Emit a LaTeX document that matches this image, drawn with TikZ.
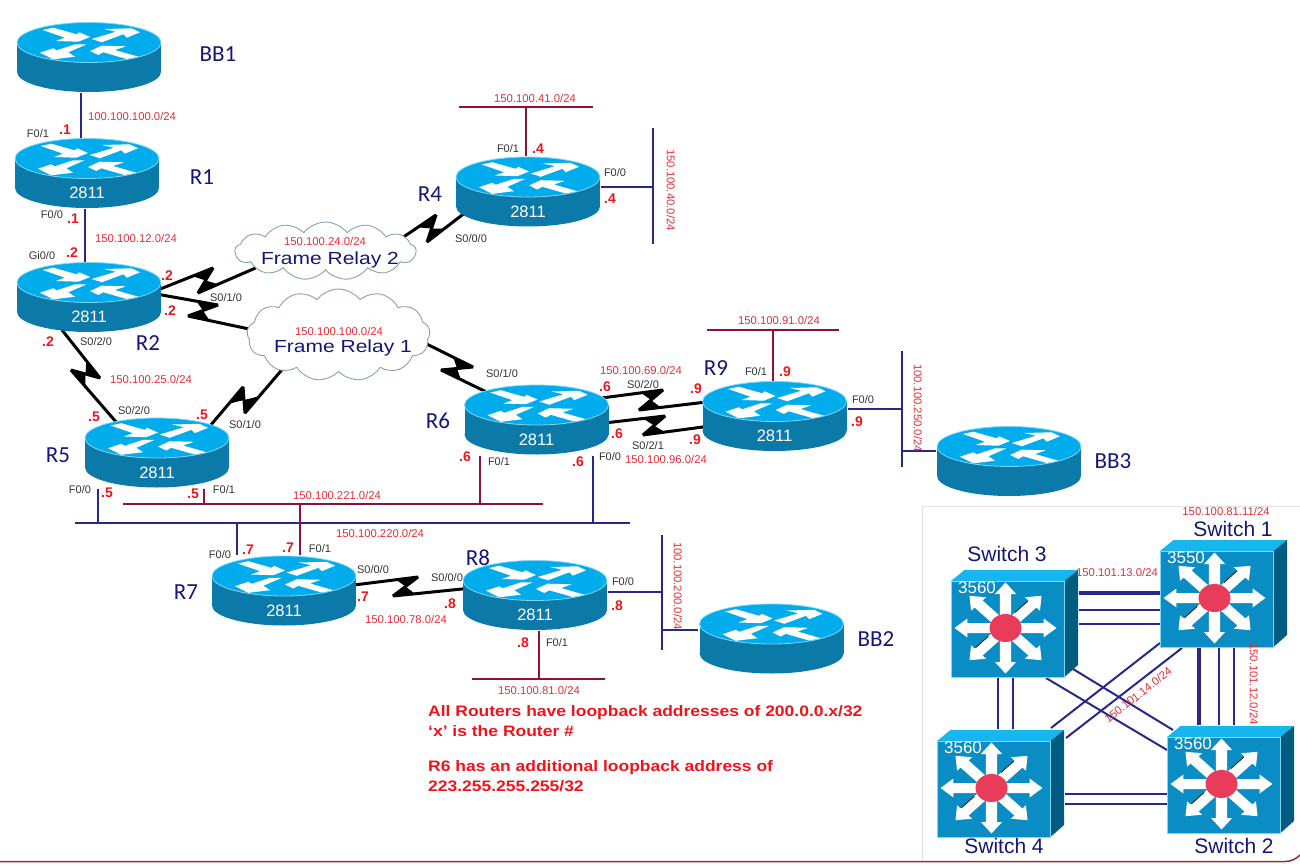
\documentclass[tikz,border=0pt]{standalone}
\usepackage{fontspec}
\usepackage{xcolor}
\usepackage{tikz}
\usetikzlibrary{shapes.symbols,backgrounds,calc}
\setmainfont{Liberation Sans}
\newfontfamily\namefont{Carlito}
\newfontfamily\cloudfont[FakeStretch=1.2]{Liberation Sans}
\newfontfamily\notefont[FakeStretch=1.15]{Liberation Sans}
\definecolor{rttop}{RGB}{0,172,236}
\definecolor{rtrim}{RGB}{130,215,245}
\definecolor{rtside}{RGB}{12,122,168}
\definecolor{swface}{RGB}{10,140,196}
\definecolor{swtop}{RGB}{22,182,238}
\definecolor{swside}{RGB}{0,92,128}
\definecolor{swhub}{RGB}{232,60,90}
\definecolor{lannavy}{RGB}{40,40,140}
\definecolor{lanred}{RGB}{140,20,50}
\definecolor{netred}{RGB}{228,45,50}
\definecolor{dotred}{RGB}{238,20,25}
\definecolor{namenavy}{RGB}{22,22,120}
\definecolor{cloudline}{RGB}{135,165,165}
\definecolor{frameline}{RGB}{150,45,50}
\newcommand{\routerdraw}{%
  \begin{scope}[shift={(path picture bounding box.center)}]
    \fill[rtside] (0,14.5) ellipse [x radius=72, y radius=20];
    \fill[rtside] (-72,-15) rectangle (72,14.5);
    \filldraw[fill=rttop, draw=rtrim, line width=0.8pt] (0,-15) ellipse [x radius=72, y radius=20];
    \fill[white] (-46.3,-27.5) -- (-35.7,-29.8) -- (-12.3,-23.2) -- (-9.7,-25.2) -- (1,-20.5) -- (-10.7,-15.8) -- (-33,-16.5) -- (-24,-19.8) -- cycle;
    \fill[white] (2.7,-18.5) -- (27,-25.8) -- (15,-28.5) -- (42.7,-29.2) -- (51,-25.2) -- (37.7,-19.8) -- (34.3,-23.2) -- (12.7,-15.2) -- cycle;
    \fill[white] (-14,-13.2) -- (-2.3,-13.2) -- (-20.7,-5.2) -- (-14,-0.8) -- (-35.7,1.8) -- (-49,-4.8) -- (-35.7,-9.2) -- (-32.3,-7.2) -- cycle;
    \fill[white] (1,-6.5) -- (12.7,-11.8) -- (37,-11.2) -- (26,-7.5) -- (49.3,-0.8) -- (37.7,1.5) -- (14.3,-5.2) -- (9.3,-2.5) -- cycle;
  \end{scope}}
\newcommand{\switchicon}[1]{%
  \begin{scope}[shift={(#1.center)}]
    \fill[swtop] (-63.5,-42.5) -- (-50,-53.5) -- (63.5,-53.5) -- (50,-42.5) -- cycle;
    \fill[swside] (50,-42.5) -- (63.5,-53.5) -- (63.5,41.5) -- (50,53.5) -- cycle;
    \filldraw[fill=swface, draw=rtrim, line width=0.6pt] (-63.5,-42.5) rectangle (50,53.5);
    \begin{scope}[shift={(-9,4.5)}, xscale=1.12]
      \foreach \a in {0,45,...,315}
        \fill[white, rotate=\a] (0,-5) -- (34,-5) -- (34,-9.5) -- (45.5,0) -- (34,9.5) -- (34,5) -- (0,5) -- cycle;
      \draw[black, line width=0.7pt] (8.5,-15.5) -- (19.8,-26.8);
      \draw[black, line width=0.7pt] (-26.8,19.8) -- (-15.5,8.5);
    \end{scope}
    \fill[swhub] (-9,4.5) ellipse [x radius=16, y radius=14];
  \end{scope}}
\newcommand{\serialzig}[4]{%
  \draw[serialline] #1 -- #2 -- #3 -- #4;
  \fill[black] ($#2!22pt!#1$) -- #2 -- ($#2!0.5!#3$) -- cycle;
  \fill[black] ($#3!22pt!#4$) -- #3 -- ($#2!0.5!#3$) -- cycle;}
\tikzstyle{routerbox} = [rectangle, minimum width=146pt, minimum height=71pt, inner sep=0pt, path picture={\routerdraw}]
\tikzstyle{switchbox} = [rectangle, minimum width=129pt, minimum height=109pt, inner sep=0pt]
\tikzstyle{cloudbox} = [cloud, draw=cloudline, fill=white, line width=0.9pt, inner sep=0pt, cloud puffs=13, cloud puff arc=105, aspect=3]
\tikzstyle{modeltext} = [text=white, inner sep=0pt, font=\fontsize{16.5}{18}\selectfont]
\tikzstyle{routername} = [text=namenavy, inner sep=0pt, font=\namefont\fontsize{23}{25}\selectfont]
\tikzstyle{switchname} = [text=namenavy, inner sep=0pt, font=\fontsize{21}{23}\selectfont]
\tikzstyle{netlabel} = [text=netred, inner sep=0pt, font=\fontsize{11.3}{13}\selectfont]
\tikzstyle{portlabel} = [text=black!80, inner sep=0pt, font=\fontsize{11}{13}\selectfont]
\tikzstyle{ipdot} = [text=dotred, inner sep=0pt, font=\bfseries\fontsize{14}{16}\selectfont]
\tikzstyle{cloudname} = [text=namenavy, inner sep=0pt, font=\cloudfont\fontsize{17.5}{20}\selectfont]
\tikzstyle{notetext} = [anchor=west, text=dotred, inner sep=0pt, font=\notefont\bfseries\fontsize{15.2}{17}\selectfont]
\tikzstyle{lanblue} = [line width=2pt, color=lannavy]
\tikzstyle{lanmaroon} = [line width=2pt, color=lanred]
\tikzstyle{serialline} = [line width=3pt, color=black, line join=bevel]
\begin{document}
\begin{tikzpicture}[x=1pt, y=-1pt]
\useasboundingbox (0,0) rectangle (1300,866);

% Routers
\node[routerbox] (BB1) at (89,57.5) {};
\node[routerbox] (R1) at (87,173.5) {};
\node[routerbox] (R2) at (89,297.5) {};
\node[routerbox] (R4) at (528,192) {};
\node[routerbox] (R5) at (157,453) {};
\node[routerbox] (R6) at (536.5,420) {};
\node[routerbox] (R7) at (284,591) {};
\node[routerbox] (R8) at (535,595.5) {};
\node[routerbox] (R9) at (774.5,416.5) {};
\node[routerbox] (BB3) at (1009,461.5) {};
\node[routerbox] (BB2) at (771.5,639) {};
\foreach \r in {R1,R2,R4,R5,R6,R7,R8,R9}
    \node[modeltext] (\r-model) at ([yshift=-19.5pt]\r.center) {2811};

% Clouds
\node[cloudbox, minimum width=181pt, minimum height=58pt] (cloud2) at (325.5,251) {};
\node[cloudbox, minimum width=183pt, minimum height=92pt] (cloud1) at (338.5,335) {};
\node[netlabel] (cloud2-net) at (325,241) {150.100.24.0/24};
\node[cloudname] (cloud2-name) at (330,260) {Frame Relay 2};
\node[netlabel] (cloud1-net) at (339,331) {150.100.100.0/24};
\node[cloudname] (cloud1-name) at (343,348) {Frame Relay 1};

% Switches
\node[switchbox] (S1) at (1223.5,593.5) {};
\node[switchbox] (S2) at (1230.5,779.5) {};
\node[switchbox] (S3) at (1014.5,623.5) {};
\node[switchbox] (S4) at (1000.5,783.5) {};
\switchicon{S1}
\switchicon{S2}
\switchicon{S3}
\switchicon{S4}
\foreach \s/\m in {S1/3550,S2/3560,S3/3560,S4/3560}
    \node[modeltext, font=\fontsize{17}{19}\selectfont] (\s-model) at ([xshift=-37.5pt,yshift=35.5pt]\s.center) {\m};

% LAN end points
\coordinate (net41w) at (459,107);
\coordinate (net41e) at (593,107);
\coordinate (net40n) at (653,128);
\coordinate (net40s) at (653,244);
\coordinate (net91w) at (707,330);
\coordinate (net91e) at (839,330);
\coordinate (net250n) at (902,351);
\coordinate (net250s) at (902,467);
\coordinate (net200n) at (662,535);
\coordinate (net200s) at (662,650);
\coordinate (net81w) at (472,679);
\coordinate (net81e) at (605,679);
\coordinate (net220w) at (75,523);
\coordinate (net220e) at (630,523);
\coordinate (net221w) at (123,504);
\coordinate (net221e) at (543,504);

\begin{scope}[on background layer]
% Router links
\draw[lanblue] ([xshift=-8pt]BB1.south) -- ([xshift=-6pt]R1.north);
\draw[lanblue] ([xshift=-2pt]R1.south) -- ([xshift=-4pt]R2.north);
\draw[lanmaroon] (net41w) -- (net41e);
\draw[lanmaroon] ([xshift=-2pt]R4.north) -- ([xshift=-2pt]R4.north |- net41w);
\draw[lanblue] (net40n) -- (net40s);
\draw[lanblue] ([yshift=5pt]R4.east) -- ([yshift=5pt]R4.east -| net40n);
\draw[lanmaroon] (net91w) -- (net91e);
\draw[lanmaroon] ([xshift=-1.5pt]R9.north) -- ([xshift=-1.5pt]R9.north |- net91w);
\draw[lanblue] (net250n) -- (net250s);
\draw[lanblue] ([yshift=7.5pt]R9.east) -- ([yshift=7.5pt]R9.east -| net250n);
\draw[lanblue] ([yshift=10.5pt]BB3.west -| net250n) -- ([yshift=10.5pt]BB3.west);
\draw[lanblue] (net200n) -- (net200s);
\draw[lanblue] ([yshift=3.5pt]R8.east) -- ([yshift=3.5pt]R8.east -| net200n);
\draw[lanblue] ([yshift=9pt]BB2.west -| net200n) -- ([yshift=9pt]BB2.west);
\draw[lanmaroon] (net81w) -- (net81e);
\draw[lanmaroon] ([xshift=4pt]R8.south) -- ([xshift=4pt]R8.south |- net81w);
\draw[lanblue] (net220w) -- (net220e);
\draw[lanmaroon] (net221w) -- (net221e);
\draw[lanblue] ([xshift=-59pt]R5.south) -- ([xshift=-59pt]R5.south |- net220w);
\draw[lanmaroon] ([xshift=47pt]R5.south) -- ([xshift=47pt]R5.south |- net221w);
\draw[lanmaroon] ([xshift=-56.5pt]R6.south) -- ([xshift=-56.5pt]R6.south |- net221w);
\draw[lanblue] ([xshift=56.5pt]R6.south) -- ([xshift=56.5pt]R6.south |- net220w);
\draw[lanblue] ([xshift=-47pt]R7.north) -- ([xshift=-47pt]R7.north |- net220w);
\draw[lanmaroon] ([xshift=16pt]R7.north) -- ([xshift=16pt]R7.north |- net221w);

% Serial links
\serialzig{([shift={(70,-8)}]R2.center)}{(213,268)}{(198,293)}{([shift={(-70,17)}]cloud2.center)}
\serialzig{([shift={(70,-3)}]R2.center)}{(218,305)}{(188,316)}{([shift={(-80,-4)}]cloud1.center)}
\serialzig{([shift={(-27,32.5)}]R2.center)}{(100,378)}{(71,370)}{([shift={(-40,-30)}]R5.center)}
\serialzig{([shift={(53,-27)}]R5.center)}{(243,387)}{(245,413)}{([shift={(-50,27)}]cloud1.center)}
\serialzig{([shift={(75,-12)}]cloud2.center)}{(436,215)}{(427,242)}{([shift={(-62,20)}]R4.center)}
\serialzig{([shift={(80,5)}]cloud1.center)}{(473,367)}{(441,370)}{([shift={(-50,-28)}]R6.center)}
\serialzig{([shift={(65,-22)}]R6.center)}{(663,390)}{(639,410)}{([shift={(-68,-14.5)}]R9.center)}
\serialzig{([shift={(68,3)}]R6.center)}{(665,416)}{(643,435)}{([shift={(-68,10)}]R9.center)}
\serialzig{([shift={(70,-6)}]R7.center)}{(418,577)}{(393,596)}{([shift={(-68,-7)}]R8.center)}

% Switch links
\draw[lanblue, line width=4.5pt] ([yshift=30.5pt]S3.east) -- ([yshift=0.5pt,xshift=-56pt]S1.center);
\draw[lanblue] ([yshift=13.5pt]S3.east) -- ([yshift=-16.5pt,xshift=-56pt]S1.center);
\draw[lanblue] ([yshift=-0.5pt]S3.east) -- ([yshift=-30.5pt,xshift=-56pt]S1.center);
\draw[lanblue, line width=4.5pt] ([xshift=-24.5pt]S1.south) -- ([xshift=-31.5pt]S2.north);
\draw[lanblue] ([xshift=-4.5pt]S1.south) -- ([xshift=-11.5pt]S2.north);
\draw[lanblue] ([xshift=10.5pt]S1.south) -- ([xshift=3.5pt]S2.north);
\draw[lanblue] ([xshift=-16.5pt]S3.south) -- ([xshift=-2.5pt]S4.north);
\draw[lanblue] ([xshift=-1.5pt]S3.south) -- ([xshift=12.5pt]S4.north);
\draw[lanblue] ([yshift=-10.5pt]S4.east) -- ([yshift=-14.5pt,xshift=-56pt]S2.center);
\draw[lanblue] ([yshift=-20.5pt]S4.east) -- ([yshift=-24.5pt,xshift=-56pt]S2.center);
\draw[lanblue] ([xshift=58.5pt,yshift=-45.5pt]S3.center) -- ([xshift=-57.5pt,yshift=49.5pt]S2.center);
\draw[lanblue] ([xshift=31.5pt,yshift=-54.5pt]S3.center) -- ([xshift=-63.5pt,yshift=29.5pt]S2.center);
\draw[lanblue] ([xshift=-63.5pt,yshift=-49.5pt]S1.center) -- ([xshift=50.5pt,yshift=55.5pt]S4.center);
\draw[lanblue] ([xshift=-41.5pt,yshift=-54.5pt]S1.center) -- ([xshift=65.5pt,yshift=45.5pt]S4.center);
\end{scope}

% Device names
\foreach \x/\y/\t [count=\n] in {218/54/BB1,202/177/R1,148/343/R2,430/194/R4,58/455/R5,438/421/R6,186/592/R7,478/558/R8,716/368/R9,1113/461/BB3,876/639/BB2}
    \node[routername] (name\n) at (\x,\y) {\t};
\foreach \x/\y/\t [count=\n] in {1233/529/Switch 1,1234/846/Switch 2,1007/554/Switch 3,1004/846/Switch 4}
    \node[switchname] (swname\n) at (\x,\y) {\t};

% Subnets
\foreach \x/\y/\t [count=\n] in {132/116/{100.100.100.0/24},136/238/{150.100.12.0/24},535/98/{150.100.41.0/24},779/320/{150.100.91.0/24},641/370/{150.100.69.0/24},666/459/{150.100.96.0/24},151/379/{150.100.25.0/24},337/495/{150.100.221.0/24},380/533/{150.100.220.0/24},406/619/{150.100.78.0/24},539/690/{150.100.81.0/24},1226/511/{150.100.81.11/24},1117/572/{150.101.13.0/24}}
    \node[netlabel] (net\n) at (\x,\y) {\t};
\foreach \x/\y/\t [count=\n] in {671/190/{150.100.40.0/24},918/408/{100.100.250.0/24},678/586/{100.100.200.0/24},1254/684/{150.101.12.0/24}}
    \node[netlabel, rotate=-90] (netv\n) at (\x,\y) {\t};
\node[netlabel, rotate=38] (netd1) at (1138,695) {150.101.14.0/24};

% Ports
\foreach \x/\y/\t [count=\n] in {38/134/{F0/1},52/215/{F0/0},42/256/{Gi0/0},226/298/{S0/1/0},96/342/{S0/2/0},134/411/{S0/2/0},245/425/{S0/1/0},80/490/{F0/0},224/490/{F0/1},508/149/{F0/1},615/173/{F0/0},471/239/{S0/0/0},502/374/{S0/1/0},643/385/{S0/2/0},648/446/{S0/2/1},499/462/{F0/1},610/457/{F0/0},756/372/{F0/1},863/400/{F0/0},220/555/{F0/0},320/549/{F0/1},373/570/{S0/0/0},447/578/{S0/0/0},623/582/{F0/0},557/643/{F0/1}}
    \node[portlabel] (port\n) at (\x,\y) {\t};

% Host addresses
\foreach \x/\y/\t [count=\n] in {65/130/.1,73/219/.1,72/253/.2,167/276/.2,170/311/.2,48/342/.2,94/417/.5,202/415/.5,107/493/.5,193/494/.5,538/149/.4,610/199/.4,605/387/.6,617/434/.6,465/457/.6,578/462/.6,696/389/.9,695/440/.9,785/372/.9,857/422/.9,248/550/.7,288/548/.7,363/597/.7,450/604/.8,617/606/.8,523/643/.8}
    \node[ipdot] (ip\n) at (\x,\y) {\t};

% Note
\node[notetext] (note1) at (428,713) {All Routers have loopback addresses of 200.0.0.x/32};
\node[notetext] (note2) at (428,731) {‘x’ is the Router \#};
\node[notetext] (note3) at (428,768) {R6 has an additional loopback address of};
\node[notetext] (note4) at (428,786) {223.255.255.255/32};

% Frame
\draw[black!12, line width=1pt] (922,860) -- (922,506) -- (1300,506);
\draw[frameline, line width=1.5pt] (0,861.5) -- (1285,861.5) .. controls (1291,861.5) and (1296,859) .. (1300,855);
\end{tikzpicture}
\end{document}
